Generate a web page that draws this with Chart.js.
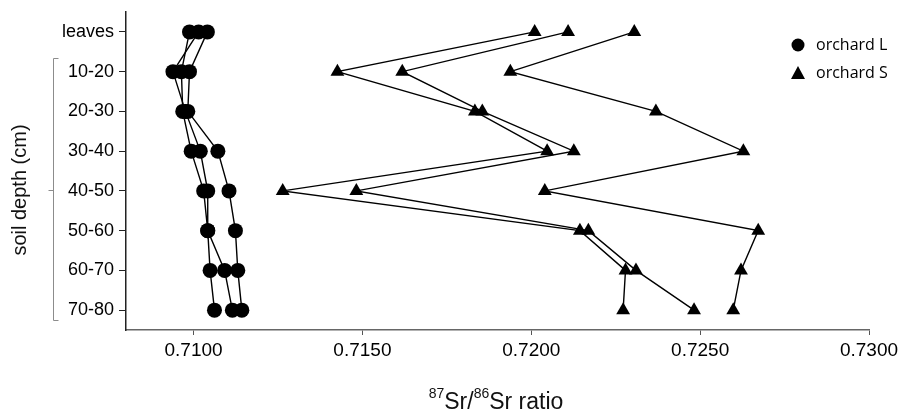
<!DOCTYPE html>
<html>
<head>
<meta charset="utf-8">
<script src="https://cdn.jsdelivr.net/npm/chart.js@4/dist/chart.umd.min.js"></script>
<style>
body{margin:0;background:#fff}
#wrap{width:898px;height:412px;position:relative}
</style>
</head>
<body>
<div id="wrap"><canvas id="myChart"></canvas></div>
<script>
// depth categories, top to bottom
let depths = ['leaves','10-20','20-30','30-40','40-50','50-60','60-70','70-80']
let xTicks = [0.7100, 0.7150, 0.7200, 0.7250, 0.7300]

// orchard L profiles (87Sr/86Sr)
let orchardL1 = [0.70988, 0.70964, 0.70968, 0.70993, 0.71030, 0.71042, 0.71049, 0.71062]
let orchardL2 = [0.71015, 0.70939, 0.70976, 0.71020, 0.71042, 0.71042, 0.71092, 0.71115]
let orchardL3 = [0.71041, 0.70988, 0.70983, 0.71072, 0.71105, 0.71124, 0.71131, 0.71143]
// orchard S profiles
let orchardS1 = [0.72010, 0.71426, 0.71833, 0.72047, 0.71264, 0.72144, 0.72279, 0.72272]
let orchardS2 = [0.72109, 0.71618, 0.71855, 0.72126, 0.71482, 0.72169, 0.72310, 0.72482]
let orchardS3 = [0.72305, 0.71938, 0.72369, 0.72628, 0.72040, 0.72672, 0.72621, 0.72598]

let toPoints = (vals) => vals.map((v, i) => ({x: v, y: i}))

let serie = (label, vals, style, r) => ({
    label: label,
    data: toPoints(vals),
    showLine: true,
    borderColor: '#000',
    borderWidth: 1.4,
    pointStyle: style,
    pointRadius: r,
    pointHoverRadius: r,
    pointBackgroundColor: '#000',
    pointBorderColor: '#000',
    pointBorderWidth: 0
})

// titles, bracket and legend drawn by hand
const extras = {
    id: 'extras',
    afterDraw(chart) {
        const ctx = chart.ctx
        ctx.save()
        // bracket for soil samples
        ctx.strokeStyle = '#8c8c8c'
        ctx.lineWidth = 1
        ctx.beginPath()
        ctx.moveTo(58.5, 58.5); ctx.lineTo(53.5, 58.5); ctx.lineTo(53.5, 320.5); ctx.lineTo(58.5, 320.5)
        ctx.moveTo(53.5, 190.5); ctx.lineTo(48.5, 190.5)
        ctx.stroke()

        // y title
        ctx.fillStyle = '#111'
        ctx.translate(20, 190)
        ctx.rotate(-Math.PI / 2)
        ctx.font = '20px "Liberation Sans", Arial, sans-serif'
        ctx.textAlign = 'center'
        ctx.textBaseline = 'middle'
        ctx.fillText('soil depth (cm)', 0, 0)
        ctx.setTransform(1, 0, 0, 1, 0, 0)

        // x title with superscripts
        let parts = [['87', 14, -11], ['Sr/', 23, 0], ['86', 14, -11], ['Sr ratio', 23, 0]]
        let w = 0
        parts.forEach(p => { ctx.font = p[1] + 'px "Liberation Sans", Arial, sans-serif'; w += ctx.measureText(p[0]).width })
        let x = 496 - w / 2
        ctx.textAlign = 'left'
        ctx.textBaseline = 'alphabetic'
        parts.forEach(p => {
            ctx.font = p[1] + 'px "Liberation Sans", Arial, sans-serif'
            ctx.fillText(p[0], x, 409 + p[2])
            x += ctx.measureText(p[0]).width
        })

        // legend
        ctx.fillStyle = '#000'
        ctx.beginPath()
        ctx.arc(798, 45, 6.5, 0, Math.PI * 2)
        ctx.fill()
        ctx.beginPath()
        ctx.moveTo(798, 66); ctx.lineTo(805, 79); ctx.lineTo(791, 79)
        ctx.closePath()
        ctx.fill()
        ctx.font = '16px "Open Sans", sans-serif'
        ctx.textBaseline = 'middle'
        ctx.fillText('orchard L', 816, 45)
        ctx.fillText('orchard S', 816, 73)
        ctx.restore()
    }
}

const config = {
    type: 'scatter',
    data: {
        datasets: [
            serie('orchard L', orchardL1, 'circle', 7.5),
            serie('orchard L', orchardL2, 'circle', 7.5),
            serie('orchard L', orchardL3, 'circle', 7.5),
            serie('orchard S', orchardS1, 'triangle', 8),
            serie('orchard S', orchardS2, 'triangle', 8),
            serie('orchard S', orchardS3, 'triangle', 8)
        ]
    },
    options: {
        responsive: true,
        maintainAspectRatio: false,
        animation: false,
        layout: {padding: {left: 0, right: 29, top: 12, bottom: 0}},
        plugins: {
            legend: {display: false},
            tooltip: {enabled: false}
        },
        scales: {
            x: {
                type: 'linear',
                min: 0.708,
                max: 0.730,
                afterBuildTicks: (scale) => { scale.ticks = xTicks.map(v => ({value: v})) },
                afterFit: (scale) => { scale.height = 82; scale.paddingRight = 0 },
                grid: {display: true, drawOnChartArea: false, drawTicks: true, tickLength: 5, color: '#555'},
                border: {display: true, color: '#666', width: 1.5},
                ticks: {
                    padding: 4,
                    color: '#000',
                    maxRotation: 0,
                    font: {family: '"Liberation Sans", Arial, sans-serif', size: 19},
                    callback: (v) => Number(v).toFixed(4)
                }
            },
            y: {
                type: 'linear',
                reverse: true,
                min: -0.5,
                max: 7.5,
                afterBuildTicks: (scale) => { scale.ticks = depths.map((d, i) => ({value: i})) },
                afterFit: (scale) => { scale.width = 126; scale.paddingTop = 0; scale.paddingBottom = 0 },
                grid: {display: true, drawOnChartArea: false, drawTicks: true, tickLength: 7, color: '#222'},
                border: {display: true, color: '#222', width: 1.5},
                ticks: {
                    padding: 5,
                    color: '#000',
                    font: {family: '"Liberation Sans", Arial, sans-serif', size: 18},
                    callback: (v) => depths[v]
                }
            }
        }
    },
    plugins: [extras]
}

var myChart = new Chart(document.getElementById('myChart'), config)
</script>
</body>
</html>
